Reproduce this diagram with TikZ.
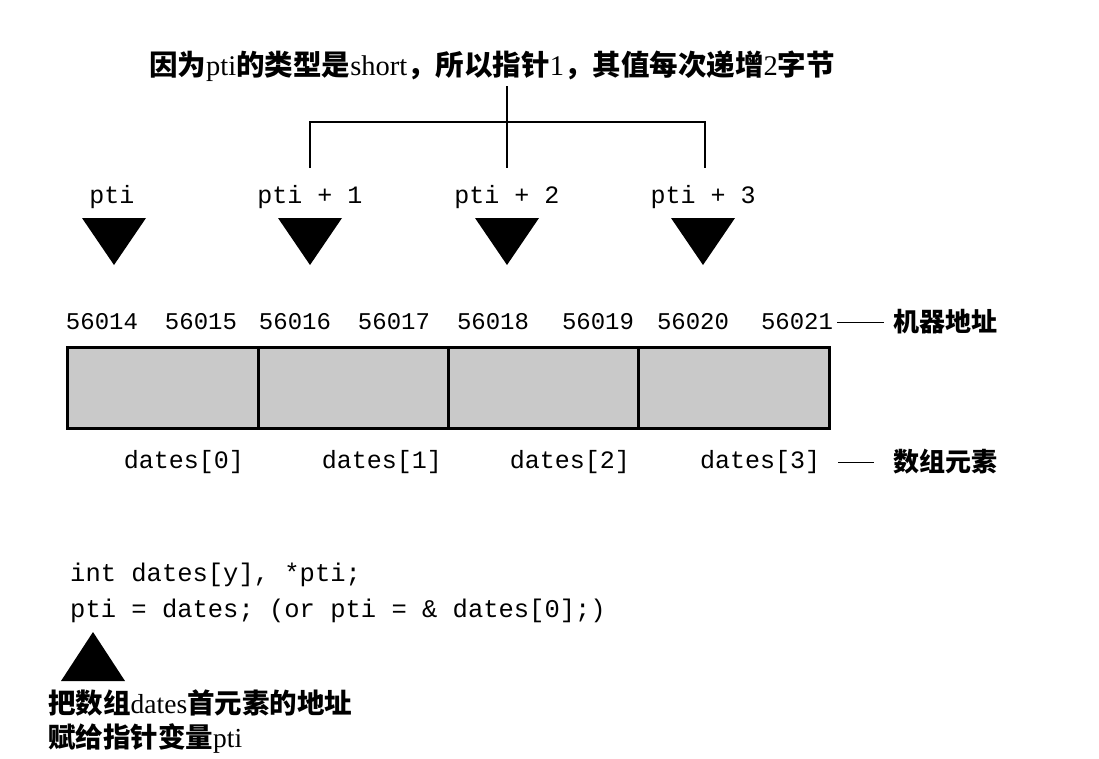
\documentclass[tikz,border=0pt]{standalone}
\usepackage{fontspec}
\setmainfont{Liberation Serif}
\setmonofont{Liberation Mono}
\newfontfamily\cjk{Noto Sans CJK SC}
\newcommand\CJ[1]{{\cjk\bfseries #1}}
\begin{document}
\begin{tikzpicture}[x=1pt,y=-1pt,
  every node/.style={inner sep=0pt, text=black},
  mono/.style={font=\ttfamily\fontsize{25}{30}\selectfont},
  addr/.style={font=\ttfamily\fontsize{24}{28}\selectfont},
  codeline/.style={anchor=west, font=\ttfamily\fontsize{25.5}{30}\selectfont},
  note/.style={font=\fontsize{27.5}{30}\selectfont},
  cnlabel/.style={font=\cjk\bfseries\fontsize{26}{30}\selectfont},
  bracket/.style={line width=1.6pt},
  ptr/.style={fill=black},
  cell/.style={fill=black!21, draw=black, line width=3pt},
  lead/.style={line width=1pt}]
\useasboundingbox (0,0) rectangle (1099,758);

% title
\node[font=\fontsize{28.5}{34}\selectfont] (title) at (492,66)
  {\CJ{因为}pti\CJ{的类型是}short\CJ{，所以指针}1\CJ{，其值每次递增}2\CJ{字节}};

% bracket
\coordinate (btop) at (507,86);
\coordinate (bmid) at (507,122);
\coordinate (bl) at (310,122);
\coordinate (br) at (705,122);
\coordinate (blend) at (310,168);
\coordinate (bmend) at (507,168);
\coordinate (brend) at (705,168);
\draw[bracket] (btop) -- (bmend);
\draw[bracket] (blend) -- (bl) -- (br) -- (brend);

% pointer labels
\node[mono] (p0) at (112,197) {pti};
\node[mono] (p1) at (310,197) {pti + 1};
\node[mono] (p2) at (507,197) {pti + 2};
\node[mono] (p3) at (703,197) {pti + 3};

% down triangles
\foreach \cx in {114,310,507,703}{
  \fill[ptr] (\cx-32,218) -- (\cx+32,218) -- (\cx,265) -- cycle;
}

% addresses
\node[addr] (a1) at (102,322) {56014};
\node[addr] (a2) at (201,322) {56015};
\node[addr] (a3) at (295,322) {56016};
\node[addr] (a4) at (394,322) {56017};
\node[addr] (a5) at (493,322) {56018};
\node[addr] (a6) at (598,322) {56019};
\node[addr] (a7) at (693,322) {56020};
\node[addr] (a8) at (797,322) {56021};
\node[cnlabel] (maddr) at (945,322) {机器地址};
\draw[lead] ([xshift=4pt]a8.east) -- ([xshift=-9pt]a8.east -| maddr.west);

% array cells
\draw[cell] (67,347) rectangle (829,428);
\draw[line width=3pt] (258,347) -- (258,428);
\draw[line width=3pt] (448,347) -- (448,428);
\draw[line width=3pt] (638,347) -- (638,428);

% element labels
\node[mono] (d0) at (184,462) {dates[0]};
\node[mono] (d1) at (382,462) {dates[1]};
\node[mono] (d2) at (570,462) {dates[2]};
\node[mono] (d3) at (760,462) {dates[3]};
\node[cnlabel] (elem) at (945,462) {数组元素};
\draw[lead] ([xshift=18pt]d3.east) -- ([xshift=-19pt]d3.east -| elem.west);

% code
\node[codeline] (c1) at (70,575) {int dates[y], *pti;};
\node[codeline] (c2) at (70,611) {pti = dates; (or pti = \& dates[0];)};

% up triangle
\fill[ptr] (93,632) -- (125,681) -- (61,681) -- cycle;

% explanation
\node[note, anchor=west] (e1) at (48,703) {\CJ{把数组}dates\CJ{首元素的地址}};
\node[note, anchor=west] (e2) at (48,738) {\CJ{赋给指针变量}pti};
\end{tikzpicture}
\end{document}
